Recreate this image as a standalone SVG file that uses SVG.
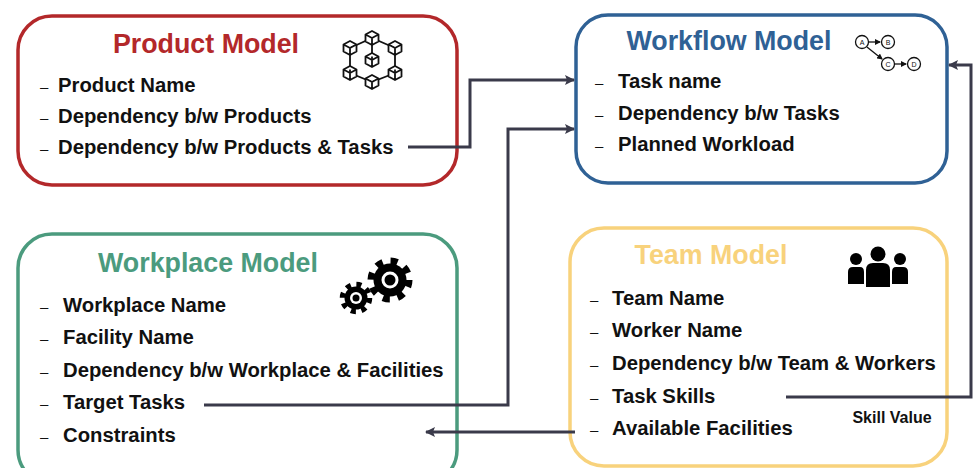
<svg xmlns="http://www.w3.org/2000/svg" width="973" height="468" viewBox="0 0 973 468">
<style>
.box{fill:#fff;stroke-width:3.5}
.title{font-family:"Liberation Sans",Arial,sans-serif;font-weight:bold;font-size:26.8px}
.item{font-family:"Liberation Sans",Arial,sans-serif;font-weight:bold;font-size:20.3px;fill:#111}
.dash{font-family:"Liberation Sans",Arial,sans-serif;font-size:15px;fill:#111}
.conn{fill:none;stroke:#3a3a4a;stroke-width:3}
.cube{fill:#fff;stroke:#111;stroke-width:1.8;stroke-linejoin:round}
.dag{fill:#fff;stroke:#111;stroke-width:1.3}
.dagt{font-family:"Liberation Sans",sans-serif;font-size:7px;fill:#111;text-anchor:middle}
</style>
<defs>
<marker id="arr" markerWidth="10" markerHeight="10" refX="9" refY="5" orient="auto" markerUnits="userSpaceOnUse" viewBox="0 0 10 10">
<path d="M0,0 L10,5 L0,10 L2,5 Z" fill="#3a3a4a"/>
</marker>
<marker id="arrs" markerWidth="6" markerHeight="6" refX="5" refY="3" orient="auto" markerUnits="userSpaceOnUse" viewBox="0 0 6 6">
<path d="M0,0 L6,3 L0,6 Z" fill="#111"/>
</marker>
<g id="cubeshape">
<path class="cube" d="M0,-7 L6.5,-3.5 L6.5,3.5 L0,7 L-6.5,3.5 L-6.5,-3.5 Z M-6.5,-3.5 L0,0 L6.5,-3.5 M0,0 L0,7"/>
</g>
</defs>

<g id="product-model">
<rect class="box" x="18" y="16" width="439" height="169" rx="34" stroke="#b3282a"/>
<text class="title" x="206" y="53" text-anchor="middle" fill="#b3282a">Product Model</text>
<text class="dash" x="40" y="92">–</text><text class="item" x="58" y="92">Product Name</text>
<text class="dash" x="40" y="123">–</text><text class="item" x="58" y="123">Dependency b/w Products</text>
<text class="dash" x="40" y="154">–</text><text class="item" x="58" y="154">Dependency b/w Products &amp; Tasks</text>
<g id="cube-icon">
<path d="M350,48 L372,38 L395,48 L395,73 L372,82 L350,73 Z M372,38 L372,60" fill="none" stroke="#111" stroke-width="1.8"/>
<use href="#cubeshape" x="372" y="38"/>
<use href="#cubeshape" x="350" y="48"/>
<use href="#cubeshape" x="395" y="48"/>
<use href="#cubeshape" x="372" y="60"/>
<use href="#cubeshape" x="350" y="73"/>
<use href="#cubeshape" x="395" y="73"/>
<use href="#cubeshape" x="372" y="82"/>
</g>
</g>

<g id="workflow-model">
<rect class="box" x="576" y="15" width="371" height="168" rx="32" stroke="#2f6195"/>
<text class="title" x="729" y="50" text-anchor="middle" fill="#2f6195">Workflow Model</text>
<text class="dash" x="595" y="88">–</text><text class="item" x="618" y="88">Task name</text>
<text class="dash" x="595" y="120">–</text><text class="item" x="618" y="120">Dependency b/w Tasks</text>
<text class="dash" x="595" y="151">–</text><text class="item" x="618" y="151">Planned Workload</text>
<g id="dag-icon">
<line x1="869" y1="42" x2="880" y2="42" stroke="#111" stroke-width="1.3" marker-end="url(#arrs)"/>
<line x1="867" y1="47" x2="882" y2="59" stroke="#111" stroke-width="1.3" marker-end="url(#arrs)"/>
<line x1="895" y1="64" x2="906" y2="64" stroke="#111" stroke-width="1.3" marker-end="url(#arrs)"/>
<circle class="dag" cx="862" cy="42" r="6.5"/><text class="dagt" x="862" y="44.5">A</text>
<circle class="dag" cx="888" cy="42" r="6.5"/><text class="dagt" x="888" y="44.5">B</text>
<circle class="dag" cx="888" cy="64" r="6.5"/><text class="dagt" x="888" y="66.5">C</text>
<circle class="dag" cx="914" cy="64" r="6.5"/><text class="dagt" x="914" y="66.5">D</text>
</g>
</g>

<g id="workplace-model">
<rect class="box" x="18" y="234" width="439" height="250" rx="34" stroke="#4b9b7e"/>
<text class="title" x="208" y="272" text-anchor="middle" fill="#4b9b7e">Workplace Model</text>
<text class="dash" x="40" y="312">–</text><text class="item" x="63" y="312">Workplace Name</text>
<text class="dash" x="40" y="344">–</text><text class="item" x="63" y="344">Facility Name</text>
<text class="dash" x="40" y="377">–</text><text class="item" x="63" y="377">Dependency b/w Workplace &amp; Facilities</text>
<text class="dash" x="40" y="409">–</text><text class="item" x="63" y="409">Target Tasks</text>
<text class="dash" x="40" y="442">–</text><text class="item" x="63" y="442">Constraints</text>
<g id="gear-icon">
<circle cx="390" cy="280" r="19" fill="none" stroke="#000" stroke-width="7" stroke-dasharray="7 7.92"/>
<circle cx="390" cy="280" r="16.5" fill="#000"/>
<circle cx="390" cy="280" r="8.5" fill="#fff"/>
<circle cx="390" cy="280" r="5.5" fill="#000"/>
<circle cx="356" cy="298" r="13.5" fill="none" stroke="#000" stroke-width="5.5" stroke-dasharray="5 5.6"/>
<circle cx="356" cy="298" r="11.5" fill="#000"/>
<circle cx="356" cy="298" r="6" fill="#fff"/>
<circle cx="356" cy="298" r="3.5" fill="#000"/>
</g>
</g>

<g id="team-model">
<rect class="box" x="570" y="228" width="377" height="238" rx="34" stroke="#f8d27c"/>
<text class="title" x="711" y="264" text-anchor="middle" fill="#f8d27c">Team Model</text>
<text class="dash" x="590" y="305">–</text><text class="item" x="612" y="305">Team Name</text>
<text class="dash" x="590" y="337">–</text><text class="item" x="612" y="337">Worker Name</text>
<text class="dash" x="590" y="370">–</text><text class="item" x="612" y="370">Dependency b/w Team &amp; Workers</text>
<text class="dash" x="590" y="403">–</text><text class="item" x="612" y="403">Task Skills</text>
<text class="dash" x="590" y="435">–</text><text class="item" x="612" y="435">Available Facilities</text>
<g id="team-icon" fill="#000">
<circle cx="856" cy="259" r="6"/>
<circle cx="900" cy="259" r="6"/>
<circle cx="878" cy="254" r="7.5"/>
<path d="M848,284 L848,272 Q848,267 853,267 L860,267 Q864,267 864,272 L864,284 Z"/>
<path d="M892,284 L892,272 Q892,267 896,267 L903,267 Q908,267 908,272 L908,284 Z"/>
<path d="M866,287 L866,270 Q866,263 873,263 L883,263 Q890,263 890,270 L890,287 Z"/>
</g>
</g>

<g id="connectors">
<path class="conn" d="M408,147 L470,147 L470,80 L574,80" marker-end="url(#arr)"/>
<path class="conn" d="M204,405 L508,405 L508,129 L574,129" marker-end="url(#arr)"/>
<path class="conn" d="M575,432 L426,432" marker-end="url(#arr)"/>
<path class="conn" d="M786,397 L971,397 L971,65 L949,65" marker-end="url(#arr)"/>
<text x="892" y="423" text-anchor="middle" font-family="'Liberation Sans',Arial,sans-serif" font-weight="bold" font-size="16" fill="#111">Skill Value</text>
</g>
</svg>
